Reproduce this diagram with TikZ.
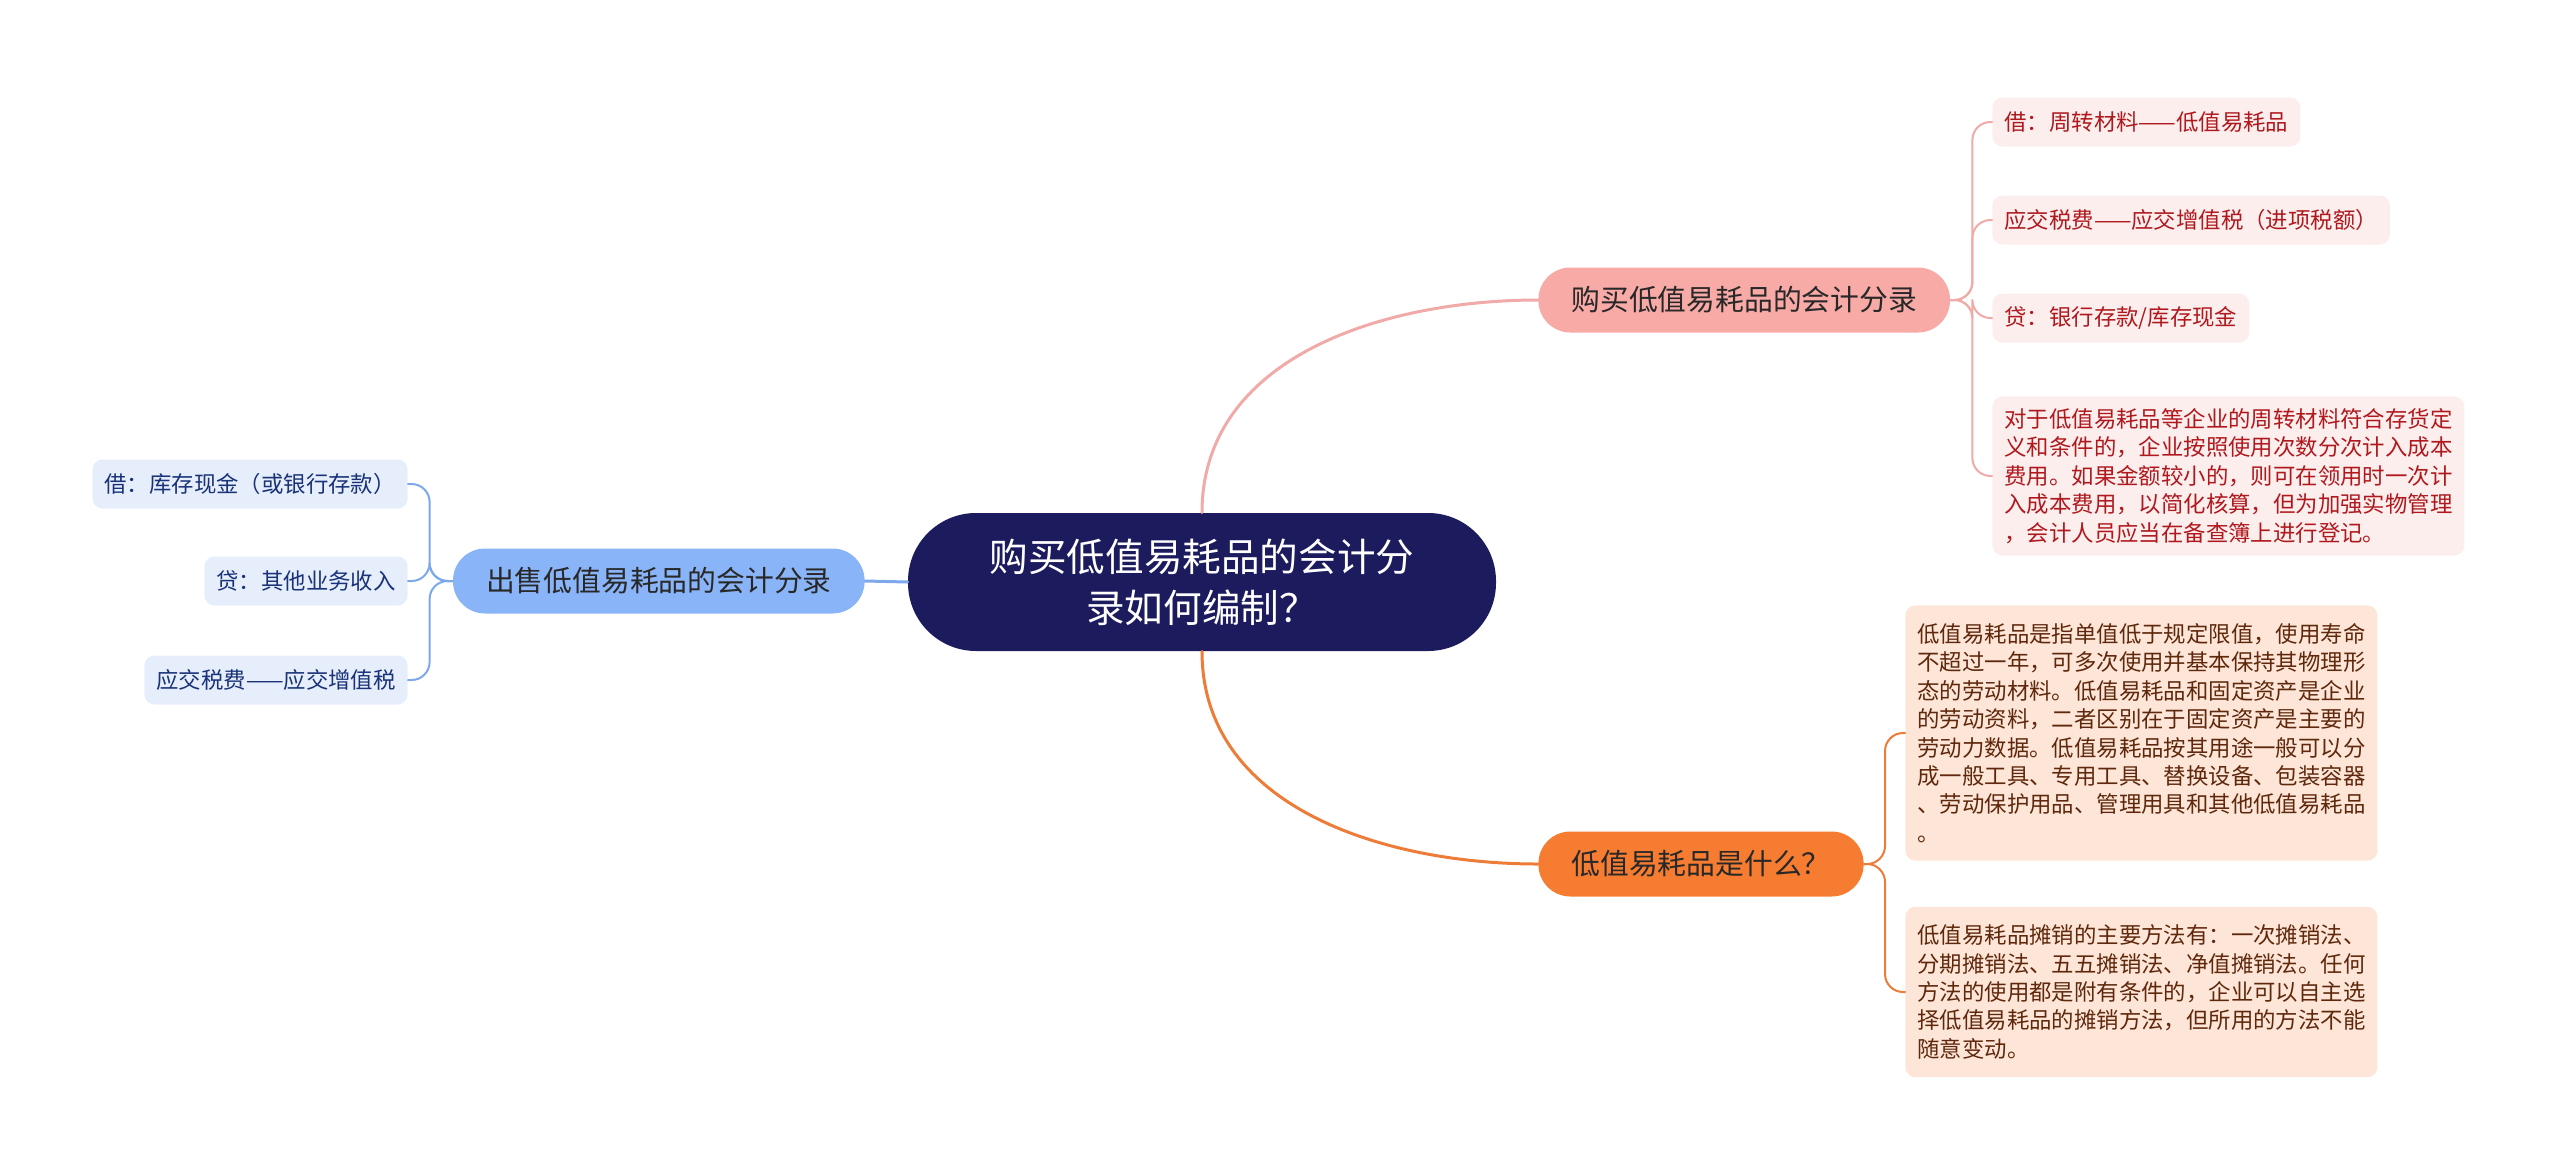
\documentclass[tikz,border=0pt]{standalone}
\usepackage{fontspec}
\setmainfont{Noto Sans CJK SC}

\definecolor{rootcolor}{RGB}{28,27,94}
\definecolor{pinkcolor1}{RGB}{248,170,167}
\definecolor{pinkcolor2}{RGB}{253,238,238}
\definecolor{pinkline}{RGB}{240,170,168}
\definecolor{pinktext}{RGB}{175,25,30}
\definecolor{orangecolor1}{RGB}{245,124,48}
\definecolor{orangecolor2}{RGB}{253,230,216}
\definecolor{orangeline}{RGB}{236,124,56}
\definecolor{orangetext}{RGB}{95,40,12}
\definecolor{bluecolor1}{RGB}{138,180,248}
\definecolor{bluecolor2}{RGB}{230,238,252}
\definecolor{blueline}{RGB}{125,168,236}
\definecolor{bluetext}{RGB}{25,50,120}
\definecolor{darktext}{RGB}{40,40,40}

\begin{document}
\begin{tikzpicture}[x=0.5pt, y=-0.5pt, line cap=round, line join=round,
		rootnode/.style={fill=rootcolor, text=white, rounded corners=34pt, minimum width=294pt, minimum height=69pt, align=center, font=\fontsize{19.3}{25.3}\selectfont},
		branchnode/.style={rounded corners=16pt, minimum height=32.5pt, inner xsep=16.5pt, text=darktext, font=\fontsize{14.4}{17}\selectfont},
		leafnode/.style={rounded corners=5pt, minimum height=24.5pt, inner xsep=6pt, inner ysep=6pt, align=left, font=\fontsize{11.2}{14.2}\selectfont},
		pinkleaf/.style={leafnode, fill=pinkcolor2, text=pinktext, anchor=west},
		orangeleaf/.style={leafnode, fill=orangecolor2, text=orangetext, anchor=west, inner ysep=9pt},
		blueleaf/.style={leafnode, fill=bluecolor2, text=bluetext, anchor=east},
		mainline/.style={line width=1.5pt},
		leafline/.style={line width=1pt, rounded corners=9pt}]
	
	\useasboundingbox (0,0) rectangle (2560,1173);
	
	% Nodo central y ramas
	\node[rootnode] (root) at (1202,582) {购买低值易耗品的会计分\\录如何编制？};
	\node[branchnode, fill=pinkcolor1, anchor=west] (buy) at (1538,300) {购买低值易耗品的会计分录};
	\node[branchnode, fill=orangecolor1, anchor=west] (what) at (1538,864) {低值易耗品是什么？};
	\node[branchnode, fill=bluecolor1, anchor=east] (sell) at (865,581) {出售低值易耗品的会计分录};
	
	% Hojas de la rama rosa
	\node[pinkleaf] (buy1) at (1992,122) {借：周转材料——低值易耗品};
	\node[pinkleaf] (buy2) at (1992,220) {应交税费——应交增值税（进项税额）};
	\node[pinkleaf] (buy3) at (1992,318) {贷：银行存款/库存现金};
	\node[pinkleaf] (buy4) at (1992,476) {对于低值易耗品等企业的周转材料符合存货定\\义和条件的，企业按照使用次数分次计入成本\\费用。如果金额较小的，则可在领用时一次计\\入成本费用，以简化核算，但为加强实物管理\\，会计人员应当在备查簿上进行登记。};
	
	% Hojas de la rama naranja
	\node[orangeleaf] (what1) at (1905,733) {低值易耗品是指单值低于规定限值，使用寿命\\不超过一年，可多次使用并基本保持其物理形\\态的劳动材料。低值易耗品和固定资产是企业\\的劳动资料，二者区别在于固定资产是主要的\\劳动力数据。低值易耗品按其用途一般可以分\\成一般工具、专用工具、替换设备、包装容器\\、劳动保护用品、管理用具和其他低值易耗品\\。};
	\node[orangeleaf] (what2) at (1905,992) {低值易耗品摊销的主要方法有：一次摊销法、\\分期摊销法、五五摊销法、净值摊销法。任何\\方法的使用都是附有条件的，企业可以自主选\\择低值易耗品的摊销方法，但所用的方法不能\\随意变动。};
	
	% Hojas de la rama azul
	\node[blueleaf] (sell1) at (408,484) {借：库存现金（或银行存款）};
	\node[blueleaf] (sell2) at (408,581) {贷：其他业务收入};
	\node[blueleaf] (sell3) at (408,680) {应交税费——应交增值税};
	
	% Conexiones principales
	\draw[mainline, color=pinkline] (root.north) to[out=90, in=180] (buy.west);
	\draw[mainline, color=orangeline] (root.south) to[out=-90, in=180] (what.west);
	\draw[mainline, color=blueline] (root.west) -- (sell.east);
	
	% Conexiones a las hojas
	\foreach \n in {buy1,buy2,buy3,buy4}
	\draw[leafline, color=pinkline] (buy.east) -- ++(22,0) |- (\n.west);
	\foreach \n in {what1,what2}
	\draw[leafline, color=orangeline] (what.east) -- ++(21,0) |- (\n.west);
	\foreach \n in {sell1,sell2,sell3}
	\draw[leafline, color=blueline] (sell.west) -- ++(-23,0) |- (\n.east);
	
\end{tikzpicture}
\end{document}
